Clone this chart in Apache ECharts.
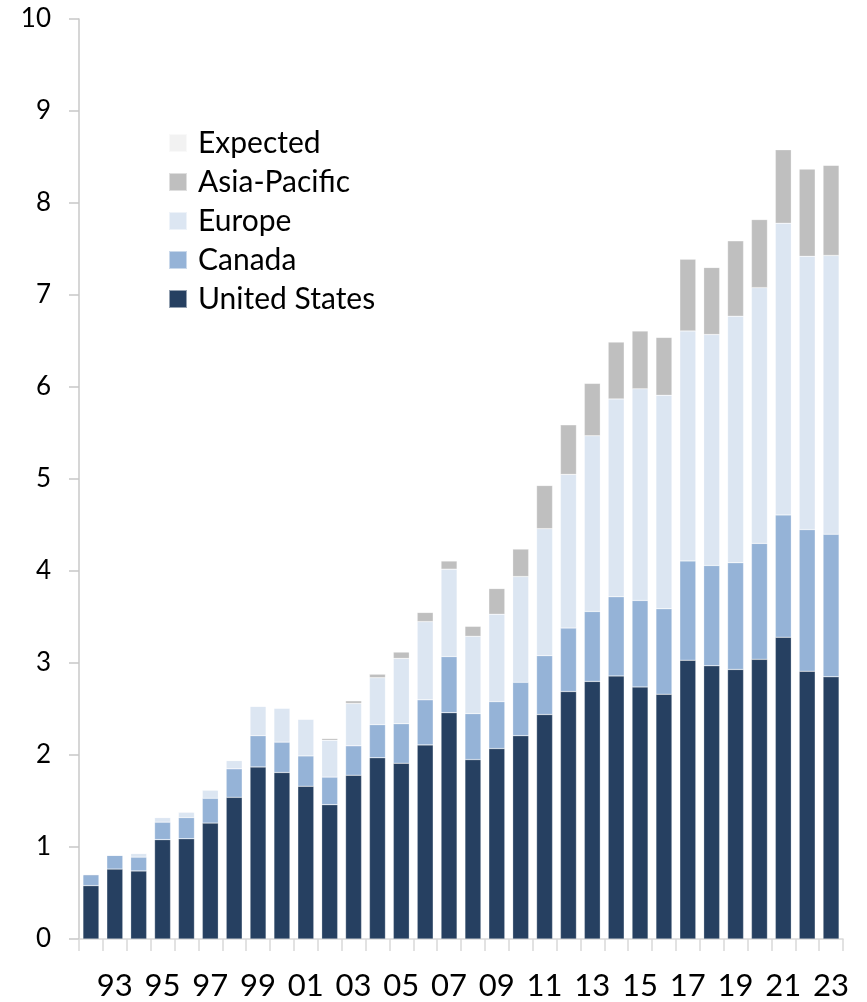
<!DOCTYPE html>
<html lang="en">
<head>
    <meta charset="UTF-8">
    <title>Stacked bars by region</title>
    <style>
        html, body { margin: 0; height: 100%; background: #fff; }
        #container { width: 867px; height: 1002px; }
    </style>
</head>
<body>
    <div id="container"></div>
    <script src="https://cdn.jsdelivr.net/npm/echarts@6/dist/echarts.min.js"></script>
    <script>
        var years = ['92', '93', '94', '95', '96', '97', '98', '99', '00', '01', '02', '03', '04', '05', '06', '07',
            '08', '09', '10', '11', '12', '13', '14', '15', '16', '17', '18', '19', '20', '21', '22', '23'];

        var unitedStates = [0.58, 0.76, 0.74, 1.08, 1.09, 1.26, 1.54, 1.87, 1.81, 1.66, 1.46, 1.78, 1.97, 1.91, 2.11, 2.46,
            1.95, 2.07, 2.21, 2.44, 2.69, 2.80, 2.86, 2.74, 2.66, 3.03, 2.97, 2.93, 3.04, 3.28, 2.91, 2.85];
        var canada = [0.12, 0.15, 0.15, 0.19, 0.23, 0.27, 0.31, 0.34, 0.33, 0.33, 0.30, 0.32, 0.36, 0.43, 0.49, 0.61,
            0.50, 0.51, 0.58, 0.64, 0.69, 0.76, 0.86, 0.94, 0.93, 1.08, 1.09, 1.16, 1.26, 1.33, 1.54, 1.55];
        var europe = [0, 0, 0.04, 0.05, 0.06, 0.09, 0.09, 0.32, 0.37, 0.40, 0.40, 0.46, 0.51, 0.71, 0.85, 0.95,
            0.84, 0.95, 1.15, 1.38, 1.67, 1.91, 2.15, 2.30, 2.32, 2.50, 2.51, 2.68, 2.78, 3.17, 2.97, 3.03];
        var asiaPacific = [0, 0, 0, 0, 0, 0, 0, 0, 0, 0, 0.02, 0.03, 0.04, 0.07, 0.10, 0.09,
            0.11, 0.28, 0.30, 0.47, 0.54, 0.57, 0.62, 0.63, 0.63, 0.78, 0.73, 0.82, 0.74, 0.80, 0.95, 0.98];
        var expected = [0, 0, 0, 0, 0, 0, 0, 0, 0, 0, 0, 0, 0, 0, 0, 0,
            0, 0, 0, 0, 0, 0, 0, 0, 0, 0, 0, 0, 0, 0, 0, 0];

        var font = 'Lato, "Noto Sans", sans-serif';
        var chart = echarts.init(document.getElementById('container'));

        function bar(name, data, color) {
            return {
                name: name,
                type: 'bar',
                stack: 'total',
                data: data,
                barWidth: 16,
                itemStyle: { color: color, borderColor: 'rgba(255,255,255,0.5)', borderWidth: 0.5 },
                emphasis: { disabled: true }
            };
        }

        var option = {
            animation: false,
            grid: { left: 79, top: 19, width: 764, bottom: 63 },
            legend: {
                orient: 'vertical',
                left: 163,
                top: 123,
                itemWidth: 18,
                itemHeight: 18,
                itemGap: 9,
                icon: 'rect',
                data: ['Expected', 'Asia-Pacific', 'Europe', 'Canada', 'United States'],
                textStyle: { fontFamily: font, fontSize: 30, lineHeight: 30, color: '#000', padding: [0, 0, 0, 6] }
            },
            xAxis: {
                type: 'category',
                data: years,
                axisLine: { lineStyle: { color: '#D9D9D9', width: 1.5 } },
                axisTick: { show: true, interval: 0, length: 12, lineStyle: { color: '#D9D9D9', width: 1.5 } },
                axisLabel: {
                    interval: function (index) { return index % 2 === 1; },
                    margin: 31,
                    fontFamily: font,
                    fontSize: 31,
                    color: '#000'
                }
            },
            yAxis: {
                type: 'value',
                min: 0,
                max: 10,
                interval: 1,
                splitLine: { show: false },
                axisLine: { show: true, lineStyle: { color: '#C8C8C8', width: 1.5 } },
                axisTick: { show: true, length: 10, lineStyle: { color: '#C8C8C8', width: 1.5 } },
                axisLabel: { margin: 28, fontFamily: font, fontSize: 26, color: '#000' }
            },
            series: [
                bar('United States', unitedStates, '#264061'),
                bar('Canada', canada, '#95B3D7'),
                bar('Europe', europe, '#DCE6F2'),
                bar('Asia-Pacific', asiaPacific, '#BFBFBF'),
                bar('Expected', expected, '#F2F2F2')
            ]
        };

        chart.setOption(option);
    </script>
</body>
</html>
